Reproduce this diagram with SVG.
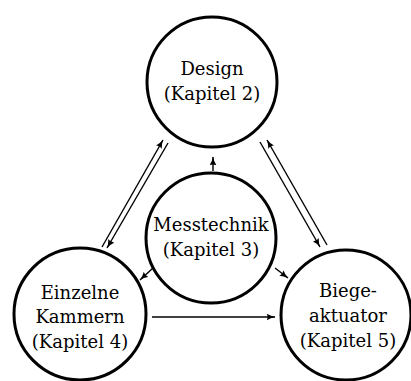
<svg xmlns="http://www.w3.org/2000/svg" width="411" height="381" viewBox="0 0 411 381">
<style>
.node circle{fill:#fff;stroke:#000;stroke-width:3}
.node text{font-family:"DejaVu Serif","Liberation Serif","Times New Roman",serif;font-size:18px;text-anchor:middle;fill:#000}
.conn line{stroke:#000;stroke-width:1.4;fill:none}
</style>
<defs>
<marker id="arr" viewBox="0 0 10 8" refX="9.5" refY="4" markerWidth="9" markerHeight="7" markerUnits="userSpaceOnUse" orient="auto">
<path d="M0,0 Q4,3 10,4 Q4,5 0,8 Q2,4 0,0 Z" fill="#000"/>
</marker>
</defs>
<rect width="411" height="381" fill="#fff"/>
<g class="conn">
<line x1="102" y1="247" x2="163" y2="140" marker-end="url(#arr)"/>
<line x1="168" y1="143" x2="107" y2="248" marker-end="url(#arr)"/>
<line x1="260" y1="142" x2="320" y2="247" marker-end="url(#arr)"/>
<line x1="327" y1="245" x2="267" y2="140" marker-end="url(#arr)"/>
<line x1="213" y1="171" x2="213" y2="157" marker-end="url(#arr)"/>
<line x1="153" y1="268" x2="140" y2="280" marker-end="url(#arr)"/>
<line x1="275" y1="268" x2="288" y2="278" marker-end="url(#arr)"/>
<line x1="152" y1="317" x2="275" y2="317" marker-end="url(#arr)"/>
</g>
<g id="design" class="node">
<circle cx="212" cy="82" r="65"/>
<text x="212" y="75">Design</text>
<text x="212" y="100">(Kapitel 2)</text>
</g>
<g id="messtechnik" class="node">
<circle cx="211" cy="238" r="65"/>
<text x="211" y="231">Messtechnik</text>
<text x="211" y="256">(Kapitel 3)</text>
</g>
<g id="einzelne" class="node">
<circle cx="80" cy="314" r="66"/>
<text x="80" y="299">Einzelne</text>
<text x="80" y="323">Kammern</text>
<text x="80" y="348">(Kapitel 4)</text>
</g>
<g id="biege" class="node">
<circle cx="346" cy="315" r="65"/>
<text x="348" y="297">Biege-</text>
<text x="348" y="322">aktuator</text>
<text x="348" y="347">(Kapitel 5)</text>
</g>
</svg>
